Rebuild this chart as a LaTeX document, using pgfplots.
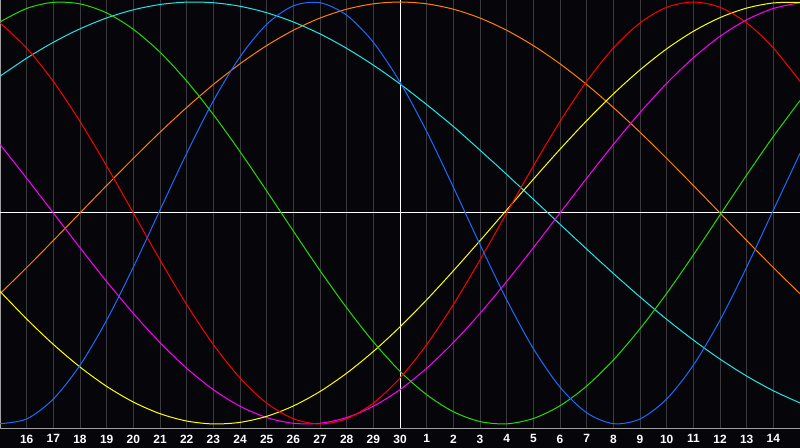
\documentclass[border=0pt]{standalone}
\usepackage{fontspec}
\setmainfont{Liberation Sans}
\usepackage{pgfplots}
\usepackage{pgfplotstable}
\pgfplotsset{compat=1.18}

\definecolor{bg}{RGB}{6,5,10}
\definecolor{gridcol}{RGB}{58,58,62}
\definecolor{bordercol}{RGB}{160,160,160}
\definecolor{cphys}{RGB}{24,108,255}
\definecolor{cemo}{RGB}{255,0,0}
\definecolor{cint}{RGB}{34,221,0}
\definecolor{caware}{RGB}{255,128,0}
\definecolor{cspir}{RGB}{32,230,230}
\definecolor{caest}{RGB}{255,255,0}
\definecolor{cintu}{RGB}{255,0,255}

% day offset from today (30) and value of each cycle
\pgfplotstableread{
t   blue    red     green   orange  cyan    yellow  magenta
-15 -0.9985 0.9010  0.9057  -0.3827 0.6483  -0.3714 0.3247
-14 -0.9762 0.7818  0.9695  -0.2588 0.7338  -0.5023 0.1646
-13 -0.8816 0.6235  0.9984  -0.1305 0.8090  -0.6228 0.0000
-12 -0.7214 0.4339  0.9911  0.0000  0.8728  -0.7300 -0.1646
-11 -0.5080 0.2225  0.9481  0.1305  0.9245  -0.8217 -0.3247
-10 -0.2564 0.0000  0.8707  0.2588  0.9630  -0.8959 -0.4759
-9  0.0137  -0.2225 0.7620  0.3827  0.9881  -0.9511 -0.6142
-8  0.2828  -0.4339 0.6256  0.5000  0.9994  -0.9859 -0.7357
-7  0.5313  -0.6235 0.4665  0.6088  0.9966  -0.9998 -0.8372
-6  0.7401  -0.7818 0.2910  0.7071  0.9798  -0.9923 -0.9158
-5  0.8941  -0.9010 0.1045  0.7934  0.9492  -0.9637 -0.9694
-4  0.9818  -0.9749 -0.0856 0.8660  0.9053  -0.9146 -0.9966
-3  0.9966  -1.0000 -0.2725 0.9239  0.8488  -0.8459 -0.9966
-2  0.9376  -0.9749 -0.4494 0.9659  0.7803  -0.7591 -0.9694
-1  0.8090  -0.9010 -0.6106 0.9914  0.7008  -0.6563 -0.9158
0   0.6204  -0.7818 -0.7502 1.0000  0.6116  -0.5395 -0.8372
1   0.3864  -0.6235 -0.8612 0.9914  0.5137  -0.4114 -0.7357
2   0.1225  -0.4339 -0.9418 0.9659  0.4103  -0.2740 -0.6142
3   -0.1497 -0.2225 -0.9884 0.9239  0.2977  -0.1311 -0.4759
4   -0.4110 0.0000  -0.9993 0.8660  0.1828  0.0146  -0.3247
5   -0.6427 0.2225  -0.9740 0.7934  0.0652  0.1600  -0.1646
6   -0.8252 0.4339  -0.9135 0.7071  -0.0533 0.3022  0.0000
7   -0.9467 0.6235  -0.8201 0.6088  -0.1711 0.4375  0.1646
8   -0.9985 0.7818  -0.6969 0.5000  -0.2863 0.5642  0.3247
9   -0.9762 0.9010  -0.5486 0.3827  -0.3977 0.6781  0.4759
10  -0.8816 0.9749  -0.3811 0.2588  -0.5039 0.7780  0.6142
11  -0.7214 1.0000  -0.1988 0.1305  -0.6022 0.8611  0.7357
12  -0.5080 0.9749  -0.0095 0.0000  -0.6924 0.9260  0.8372
13  -0.2564 0.9010  0.1801  -0.1305 -0.7728 0.9711  0.9158
14  0.0137  0.7818  0.3627  -0.2588 -0.8425 0.9955  0.9694
15  0.2828  0.6235  0.5328  -0.3827 -0.9002 0.9987  0.9966
}\cycles

\begin{document}
\begin{tikzpicture}
	\useasboundingbox (0,-20bp) rectangle (800bp,428bp);
	\fill[bg] (0,-20bp) rectangle (800bp,428bp);
	\begin{axis}[
	at={(0,0)}, anchor=south west,
	scale only axis,
	width=800bp,
	height=428bp,
	xmin=-15, xmax=15,
	ymin=-1.019, ymax=1.0095,
	xtick={-14,...,14},
	xticklabels={16,17,18,19,20,21,22,23,24,25,26,27,28,29,30,1,2,3,4,5,6,7,8,9,10,11,12,13,14},
	ytick=\empty,
	major tick length=0pt,
	xmajorgrids=true,
	major grid style={gridcol, line width=1bp},
	axis line style={draw=none},
	xticklabel style={font=\bfseries\fontsize{12}{14}\selectfont, text=white,
		anchor=north, inner sep=0pt, yshift=-6.5bp},
	clip mode=individual,
	every axis plot/.append style={line width=1bp, smooth, no marks}
	]
	\draw[bordercol, line width=1bp] (rel axis cs:0,0) -- (rel axis cs:1,0);
	\draw[bordercol, line width=1bp] (rel axis cs:0,0) -- (rel axis cs:0,1) -- (rel axis cs:1,1);
	\draw[white, line width=1bp] (axis cs:0,-1.019) -- (axis cs:0,1.0095);
	\draw[white, line width=1bp] (axis cs:-15,0) -- (axis cs:15,0);
	\addplot [caware] table [x=t, y=orange] {\cycles};
	\addplot [cspir] table [x=t, y=cyan] {\cycles};
	\addplot [cintu] table [x=t, y=magenta] {\cycles};
	\addplot [caest] table [x=t, y=yellow] {\cycles};
	\addplot [cint] table [x=t, y=green] {\cycles};
	\addplot [cemo] table [x=t, y=red] {\cycles};
	\addplot [cphys] table [x=t, y=blue] {\cycles};
	\end{axis}
\end{tikzpicture}
\end{document}
